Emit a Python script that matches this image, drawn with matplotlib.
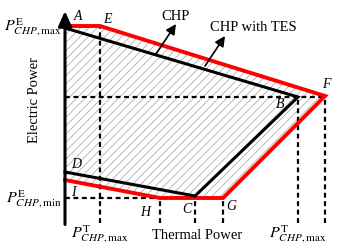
import matplotlib
matplotlib.use("Agg")
import matplotlib.pyplot as plt
from matplotlib.patches import Polygon

plt.rcParams["font.family"] = ["Liberation Serif", "DejaVu Serif"]
plt.rcParams["mathtext.fontset"] = "stix"
plt.rcParams["hatch.linewidth"] = 0.5

# operating region corners (thermal, electric), arbitrary units
chp_x = [0, 233, 130, 0]           # A, B, C, D
chp_y = [195, 126, 27, 51]
tes_x = [0, 35, 260, 158, 95, 0, 0]  # A, E, F, G, H, I, back to A
tes_y = [197, 197, 127, 25, 25, 43, 197]

# guide lines: (x0, y0, x1, y1)
guides = [
    (35, 0, 35, 197),
    (0, 126, 260, 126),
    (233, 0, 233, 126),
    (260, 0, 260, 127),
    (0, 25, 95, 25),
    (95, 0, 95, 25),
    (130, 0, 130, 27),
    (158, 0, 158, 25),
]

point_labels = {
    "A": (13, 206), "E": (42, 203), "B": (215, 119), "F": (261, 138),
    "D": (11, 58), "I": (8, 31), "H": (80, 11), "C": (122, 14), "G": (166, 17),
}

fig = plt.figure(figsize=(3.41, 2.47), dpi=100)
ax = fig.add_axes([0, 0, 1, 1])
ax.set_xlim(-65, 276)
ax.set_ylim(-24, 223)
ax.axis("off")

# hatched feasible region of CHP with TES
poly = Polygon(list(zip(tes_x, tes_y)), closed=True, facecolor="none",
               edgecolor="#a0a0a0", linewidth=0, hatch="////", zorder=1)
ax.add_patch(poly)

for x0, y0, x1, y1 in guides:
    ax.plot([x0, x1], [y0, y1], color="black", lw=1.6, ls=(0, (2.2, 1.6)), zorder=2)

ax.plot(tes_x[:-1], tes_y[:-1], color="#ff0000", lw=2.8, zorder=3,
        solid_joinstyle="miter")
ax.plot(chp_x, chp_y, color="black", lw=2.2, zorder=4, solid_joinstyle="miter")

# axes with arrows
ax.annotate("", xy=(0, 212), xytext=(0, -1.5),
            arrowprops=dict(arrowstyle="-|>,head_length=0.9,head_width=0.4",
                            lw=2.2, color="black", shrinkA=0, shrinkB=0), zorder=5)
ax.annotate("", xy=(277, 0), xytext=(-1.5, 0),
            arrowprops=dict(arrowstyle="-|>,head_length=0.9,head_width=0.4",
                            lw=2.2, color="black", shrinkA=0, shrinkB=0), zorder=5)

for name, (x, y) in point_labels.items():
    ax.text(x, y, name, fontsize=10, style="italic", ha="center", va="center")

ax.text(111, 206, "CHP", fontsize=10.5, ha="center", va="center")
ax.annotate("", xy=(111, 199), xytext=(91, 169),
            arrowprops=dict(arrowstyle="-|>,head_length=0.6,head_width=0.3",
                            lw=1.2, color="black", shrinkA=0, shrinkB=0))
ax.text(188, 195, "CHP with TES", fontsize=10.5, ha="center", va="center")
ax.annotate("", xy=(160, 187), xytext=(140, 157),
            arrowprops=dict(arrowstyle="-|>,head_length=0.6,head_width=0.3",
                            lw=1.2, color="black", shrinkA=0, shrinkB=0))

ax.text(132, -12, "Thermal Power", fontsize=10.5, ha="center", va="center")
ax.text(-30, 123, "Electric Power", fontsize=10.5, ha="center", va="center",
        rotation=90)

pt_lab = r"$P^{\mathrm{T}}_{CHP,\mathrm{max}}$"
ax.text(35, -11, pt_lab, fontsize=11.5, ha="center", va="center")
ax.text(233, -11, pt_lab, fontsize=11.5, ha="center", va="center")
ax.text(-3, 196, r"$P^{\mathrm{E}}_{CHP,\mathrm{max}}$", fontsize=11.5,
        ha="right", va="center")
ax.text(-3, 24, r"$P^{\mathrm{E}}_{CHP,\mathrm{min}}$", fontsize=11.5,
        ha="right", va="center")

fig.savefig("out.png", dpi=100)
